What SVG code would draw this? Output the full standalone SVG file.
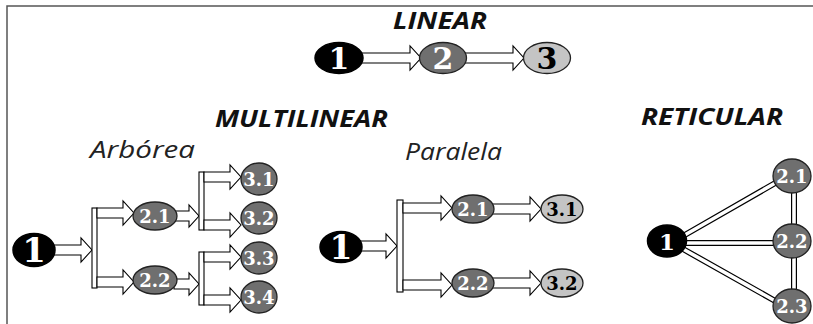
<svg xmlns="http://www.w3.org/2000/svg" width="813" height="324" viewBox="0 0 813 324">
  <style>
    .frame { fill: none; stroke: #555; stroke-width: 1.5; }
    .head { font-family: "Open Sans", "Liberation Sans", sans-serif; font-weight: bold; font-style: italic; font-size: 23px; fill: #111; }
    .sub { font-family: "Open Sans", "Liberation Sans", sans-serif; font-style: italic; font-size: 23px; fill: #222; }
    .arr { fill: #fff; stroke: #000; stroke-width: 1.1; stroke-linejoin: miter; }
    .bar { fill: #fff; stroke: #000; stroke-width: 1.1; }
    .dark { fill: #000; stroke: #000; stroke-width: 1.5; }
    .mid { fill: #6f6f6f; stroke: #222; stroke-width: 1.3; }
    .light { fill: #c4c4c4; stroke: #222; stroke-width: 1.3; }
    .lbl { font-family: "DejaVu Serif", "Liberation Serif", serif; font-weight: bold; text-anchor: middle; }
    .w { fill: #fff; }
    .k { fill: #000; }
    .s18 { font-size: 18px; }
    .link-o { stroke: #000; stroke-width: 6; fill: none; }
    .link-i { stroke: #fff; stroke-width: 3.6; fill: none; }
  </style>

  <!-- frame -->
  <path class="frame" d="M7 324 V6 H813"/>

  <!-- headings -->
  <text class="head" x="393" y="29" textLength="94" lengthAdjust="spacingAndGlyphs">LINEAR</text>
  <text class="head" x="215" y="127" textLength="173" lengthAdjust="spacingAndGlyphs">MULTILINEAR</text>
  <text class="head" x="641" y="125" textLength="142" lengthAdjust="spacingAndGlyphs">RETICULAR</text>
  <text class="sub" x="90" y="158" textLength="105" lengthAdjust="spacingAndGlyphs">Arbórea</text>
  <text class="sub" x="405" y="160" textLength="97" lengthAdjust="spacingAndGlyphs">Paralela</text>

  <!-- connectors -->
  <g id="connectors">
    <!-- linear -->
    <path class="arr" d="M360 53 H410 V46 L421 58 L410 70 V63 H360 Z"/>
    <path class="arr" d="M464 53 H513 V46 L524 58 L513 70 V63 H464 Z"/>

    <!-- arborea -->
    <path class="arr" d="M52 245 H81 V238 L92 250 L81 262 V255 H52 Z"/>
    <rect class="bar" x="92" y="208" width="5" height="80"/>
    <path class="arr" d="M97 208 H123 V201 L134 213 L123 225 V218 H97 Z"/>
    <path class="arr" d="M97 277 H123 V270 L134 282 L123 294 V287 H97 Z"/>
    <path class="arr" d="M174 211 H189 V205 L199 216 L189 227 V221 H174 Z"/>
    <rect class="bar" x="199" y="172" width="5" height="58"/>
    <path class="arr" d="M204 172 H230 V165 L241 177 L230 189 V182 H204 Z"/>
    <path class="arr" d="M204 220 H230 V213 L241 225 L230 237 V230 H204 Z"/>
    <path class="arr" d="M174 279 H189 V273 L199 284 L189 295 V289 H174 Z"/>
    <rect class="bar" x="199" y="252" width="5" height="53"/>
    <path class="arr" d="M204 252 H230 V245 L241 257 L230 269 V262 H204 Z"/>
    <path class="arr" d="M204 295 H230 V288 L241 300 L230 312 V305 H204 Z"/>

    <!-- paralela -->
    <path class="arr" d="M359 241 H386 V234 L397 246 L386 258 V251 H359 Z"/>
    <rect class="bar" x="397" y="200" width="6" height="92"/>
    <path class="arr" d="M403 203 H441 V196 L452 208 L441 220 V213 H403 Z"/>
    <path class="arr" d="M403 280 H441 V273 L452 285 L441 297 V290 H403 Z"/>
    <path class="arr" d="M491 204 H530 V197 L541 209 L530 221 V214 H491 Z"/>
    <path class="arr" d="M491 278 H530 V271 L541 283 L530 295 V288 H491 Z"/>

    <!-- reticular -->
    <path class="link-o" d="M683 236 L777 182 M685 243 H775 M683 249 L777 302 M794 190 V228 M794 255 V293"/>
    <path class="link-i" d="M683 236 L777 182 M685 243 H775 M683 249 L777 302 M794 190 V228 M794 255 V293"/>
  </g>

  <!-- linear nodes -->
  <g id="lin-1"><ellipse class="dark" cx="339" cy="58" rx="24" ry="15.5"/><text class="lbl w" x="339" y="69" font-size="30">1</text></g>
  <g id="lin-2"><ellipse class="mid" cx="443" cy="58" rx="23.5" ry="15.5"/><text class="lbl w" x="443" y="69" font-size="30">2</text></g>
  <g id="lin-3"><ellipse class="light" cx="547" cy="58" rx="23.5" ry="15.5"/><text class="lbl k" x="547" y="69" font-size="30">3</text></g>

  <!-- arborea nodes -->
  <g id="arb-1"><ellipse class="dark" cx="34" cy="250" rx="21" ry="16.5"/><text class="lbl w" x="34" y="262" font-size="34">1</text></g>
  <g id="arb-2-1"><ellipse class="mid" cx="155" cy="216" rx="22" ry="14"/><text class="lbl w s18" x="155" y="222.5">2.1</text></g>
  <g id="arb-2-2"><ellipse class="mid" cx="155" cy="280" rx="22" ry="14"/><text class="lbl w s18" x="155" y="286.5">2.2</text></g>
  <g id="arb-3-1"><ellipse class="mid" cx="259" cy="179" rx="18" ry="16"/><text class="lbl w s18" x="259" y="185.5">3.1</text></g>
  <g id="arb-3-2"><ellipse class="mid" cx="259" cy="218" rx="18" ry="16"/><text class="lbl w s18" x="259" y="224.5">3.2</text></g>
  <g id="arb-3-3"><ellipse class="mid" cx="259" cy="258" rx="18" ry="16"/><text class="lbl w s18" x="259" y="264.5">3.3</text></g>
  <g id="arb-3-4"><ellipse class="mid" cx="259" cy="297" rx="18" ry="16"/><text class="lbl w s18" x="259" y="303.5">3.4</text></g>

  <!-- paralela nodes -->
  <g id="par-1"><ellipse class="dark" cx="341" cy="247" rx="21" ry="15.5"/><text class="lbl w" x="341" y="259" font-size="33">1</text></g>
  <g id="par-2-1"><ellipse class="mid" cx="473" cy="209" rx="21" ry="14"/><text class="lbl w s18" x="473" y="215.5">2.1</text></g>
  <g id="par-2-2"><ellipse class="mid" cx="473" cy="283" rx="21" ry="14"/><text class="lbl w s18" x="473" y="289.5">2.2</text></g>
  <g id="par-3-1"><ellipse class="light" cx="562" cy="209" rx="21" ry="14"/><text class="lbl k s18" x="562" y="215.5">3.1</text></g>
  <g id="par-3-2"><ellipse class="light" cx="562" cy="283" rx="21" ry="14"/><text class="lbl k s18" x="562" y="289.5">3.2</text></g>

  <!-- reticular nodes -->
  <g id="ret-1"><ellipse class="dark" cx="667" cy="241" rx="19.5" ry="16"/><text class="lbl w" x="667" y="249.5" font-size="23">1</text></g>
  <g id="ret-2-1"><ellipse class="mid" cx="792" cy="176" rx="19" ry="17"/><text class="lbl w s18" x="792" y="182.5">2.1</text></g>
  <g id="ret-2-2"><ellipse class="mid" cx="792" cy="241" rx="19" ry="17"/><text class="lbl w s18" x="792" y="247.5">2.2</text></g>
  <g id="ret-2-3"><ellipse class="mid" cx="792" cy="306" rx="19" ry="17"/><text class="lbl w s18" x="792" y="312.5">2.3</text></g>
</svg>
